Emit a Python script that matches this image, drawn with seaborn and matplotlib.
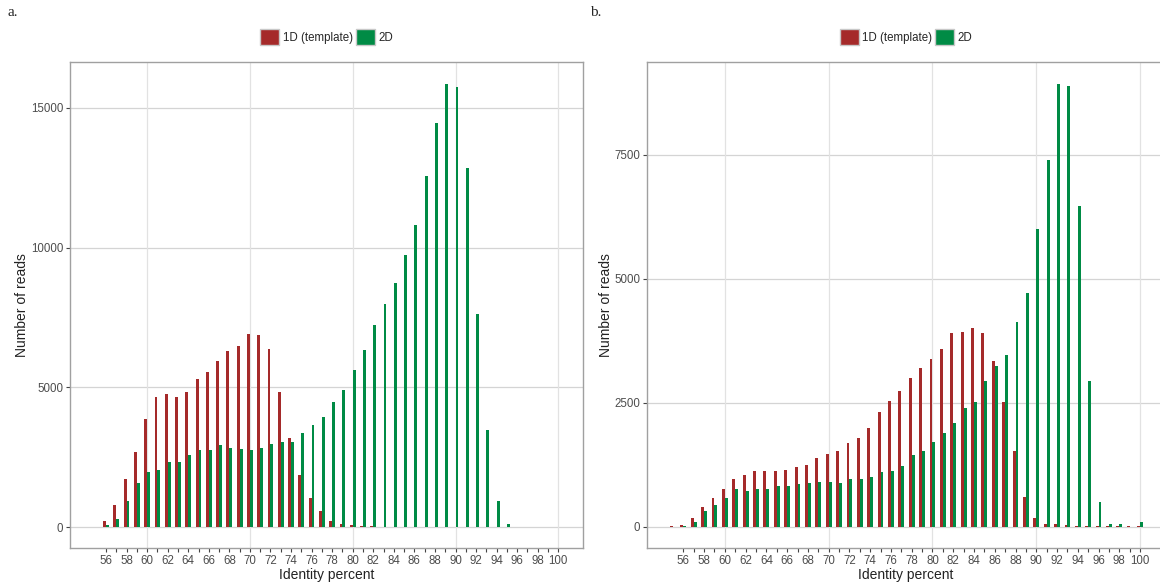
import numpy as np
import pandas as pd
import matplotlib
matplotlib.use("Agg")
import matplotlib.pyplot as plt
from matplotlib.patches import Patch
import seaborn as sns

identity = list(range(55, 101))

# Panel a
a_1d = [15, 215, 790, 1710, 2690, 3860, 4640, 4750, 4640, 4840, 5280, 5530, 5930, 6300, 6490,
        6920, 6880, 6360, 4830, 3180, 1870, 1040, 560, 230, 110, 55, 30, 20, 15, 15, 12,
        10, 10, 10, 10, 10, 10, 10, 10, 10, 8, 8, 8, 8, 8, 10]
a_2d = [0, 60, 287, 920, 1566, 1985, 2030, 2320, 2340, 2590, 2740, 2770, 2940, 2830, 2800,
        2760, 2830, 2965, 3050, 3025, 3380, 3650, 3940, 4475, 4890, 5620, 6343, 7237, 7989, 8716,
        9717, 10803, 12555, 14463, 15846, 15751, 12829, 7619, 3458, 942, 119, 0, 0, 0, 0, 0]

# Panel b
b_1d = [10, 40, 168, 396, 571, 766, 954, 1042, 1122, 1122, 1129, 1142, 1196, 1243, 1391,
        1465, 1526, 1694, 1781, 1983, 2322, 2530, 2738, 3007, 3206, 3374, 3589, 3898, 3931, 3999,
        3911, 3347, 2507, 1526, 605, 168, 60, 47, 27, 20, 20, 10, 5, 5, 5, 10]
b_2d = [0, 20, 101, 309, 437, 585, 759, 719, 759, 766, 820, 820, 867, 880, 894,
        900, 880, 954, 954, 1005, 1102, 1129, 1216, 1448, 1532, 1700, 1888, 2083, 2399, 2520,
        2937, 3239, 3454, 4133, 4704, 6001, 7386, 8931, 8878, 6458, 2930, 491, 47, 47, 0, 100]

series_names = ["1D (template)", "2D"]
RED = "#A52A2A"
GREEN = "#008B45"
palette = {series_names[0]: RED, series_names[1]: GREEN}

x_ticks = list(range(56, 101))
x_labels = [str(v) if v % 2 == 0 else "" for v in x_ticks]
a_yticks = [0, 5000, 10000, 15000]
b_yticks = [0, 2500, 5000, 7500]


def long_df(one_d, two_d):
    return pd.DataFrame({
        "identity": identity * 2,
        "reads": one_d + two_d,
        "type": [series_names[0]] * len(identity) + [series_names[1]] * len(identity),
    })


sns.set_theme(style="white")
plt.rcParams["font.family"] = ["Liberation Sans", "DejaVu Sans"]

W, H = 1160, 585
fig = plt.figure(figsize=(W / 100, H / 100), dpi=100)


def px_axes(left, top, right, bottom):
    return fig.add_axes([left / W, 1 - bottom / H, (right - left) / W, (bottom - top) / H])


ax_a = px_axes(70, 62, 583, 548)
ax_b = px_axes(647, 62, 1165, 548)

configs = [
    (ax_a, a_1d, a_2d, a_yticks, (-751, 16637), "a.", 8),
    (ax_b, b_1d, b_2d, b_yticks, (-430, 9369), "b.", 590),
]

for ax, one_d, two_d, yt, ylim, tag, tagx in configs:
    df = long_df(one_d, two_d)
    sns.barplot(data=df, x="identity", y="reads", hue="type", palette=palette,
                native_scale=True, dodge=True, width=0.56, linewidth=0,
                saturation=1, ax=ax, legend=False, zorder=3)
    ax.set_xlim(52.5, 102.4)
    ax.set_ylim(*ylim)
    # grid
    for v in yt:
        ax.axhline(v, color="#d4d4d4", lw=0.9, zorder=0)
    for v in [60, 70, 80, 90, 100]:
        ax.axvline(v, color="#e2e2e2", lw=0.9, zorder=0)
    ax.grid(False)
    ax.set_xticks(x_ticks)
    ax.set_xticklabels(x_labels)
    ax.set_yticks(yt)
    ax.set_yticklabels([str(v) for v in yt])
    ax.tick_params(axis="both", which="major", length=3, width=0.8, color="#444444",
                   labelsize=8.3, labelcolor="#4d4d4d", pad=2, bottom=True, left=True)
    for s in ax.spines.values():
        s.set_color("#a0a0a0")
        s.set_linewidth(1.0)
    ax.set_xlabel("Identity percent", fontsize=10, color="#222222", labelpad=1)
    ax.set_ylabel("Number of reads", fontsize=10, color="#222222", labelpad=1)
    fig.text(tagx / W, 1 - 12 / H, tag, family=["Liberation Serif", "DejaVu Serif"],
             fontsize=11, ha="left", va="center")
    # legend
    handles = [Patch(facecolor=palette[n], edgecolor="#c8c8c8", linewidth=1) for n in series_names]
    pos = ax.get_position()
    cx = (pos.x0 + min(pos.x1, 1.0 + 5 / W)) / 2
    fig.legend(handles, series_names, loc="center", bbox_to_anchor=(cx, 1 - 37 / H),
               ncol=2, frameon=False, fontsize=8.3, handlelength=1.65, handleheight=1.75,
               handletextpad=0.3, columnspacing=0.25, borderpad=0)

fig.savefig("out.png", dpi=100)
